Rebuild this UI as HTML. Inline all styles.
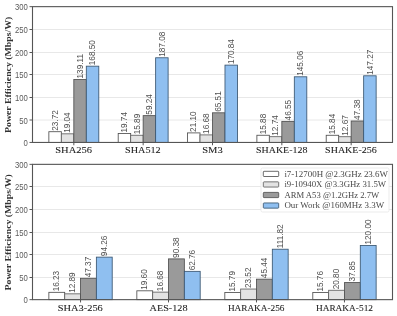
<!DOCTYPE html>
<html><head><meta charset="utf-8"><style>
html,body{margin:0;padding:0;background:#fff;}
svg{display:block;will-change:transform;}
.val{font-family:"Liberation Sans",sans-serif;font-size:8.2px;fill:#505050;}
.tick{font-family:"Liberation Sans",sans-serif;font-size:8.3px;fill:#5a5a5a;}
.cat{font-family:"Liberation Serif",serif;font-weight:normal;font-size:8.6px;fill:#222;stroke:#222;stroke-width:0.08px;}
.ylab{font-family:"Liberation Serif",serif;font-weight:bold;font-size:8.6px;fill:#333;}
.leg{font-family:"Liberation Serif",serif;font-size:7.5px;fill:#484848;}
</style></head><body>
<svg width="397" height="316" viewBox="0 0 397 316">
<rect width="397" height="316" fill="#fff"/>
<line x1="32.5" x2="392.5" y1="120.00" y2="120.00" stroke="#e8e8e8" stroke-width="1"/>
<line x1="32.5" x2="392.5" y1="97.50" y2="97.50" stroke="#e8e8e8" stroke-width="1"/>
<line x1="32.5" x2="392.5" y1="74.50" y2="74.50" stroke="#e8e8e8" stroke-width="1"/>
<line x1="32.5" x2="392.5" y1="52.50" y2="52.50" stroke="#e8e8e8" stroke-width="1"/>
<line x1="32.5" x2="392.5" y1="29.50" y2="29.50" stroke="#e8e8e8" stroke-width="1"/>
<rect x="48.86" y="131.71" width="12.48" height="10.74" fill="#ffffff" stroke="#505050" stroke-width="0.85"/>
<text class="val" transform="translate(57.80,130.71) rotate(-90) scale(1.0,1)">23.72</text>
<rect x="61.34" y="133.83" width="12.48" height="8.62" fill="#e3e3e3" stroke="#606060" stroke-width="0.85"/>
<text class="val" transform="translate(70.28,132.83) rotate(-90) scale(1.0,1)">19.04</text>
<rect x="73.83" y="79.48" width="12.48" height="62.97" fill="#9a9a9a" stroke="#505050" stroke-width="0.85"/>
<text class="val" transform="translate(82.77,78.48) rotate(-90) scale(1.0,1)">139.11</text>
<rect x="86.31" y="66.18" width="12.48" height="76.27" fill="#8fbff0" stroke="#3a5670" stroke-width="0.85"/>
<text class="val" transform="translate(95.25,65.18) rotate(-90) scale(1.0,1)">168.50</text>
<line x1="73.83" x2="73.83" y1="142.45" y2="145.25" stroke="#444" stroke-width="0.9"/>
<text class="cat" x="73.65" y="153.35" text-anchor="middle" textLength="36.70" lengthAdjust="spacingAndGlyphs">SHA256</text>
<rect x="118.20" y="133.51" width="12.48" height="8.94" fill="#ffffff" stroke="#505050" stroke-width="0.85"/>
<text class="val" transform="translate(127.14,132.51) rotate(-90) scale(1.0,1)">19.74</text>
<rect x="130.68" y="135.26" width="12.48" height="7.19" fill="#e3e3e3" stroke="#606060" stroke-width="0.85"/>
<text class="val" transform="translate(139.62,134.26) rotate(-90) scale(1.0,1)">15.89</text>
<rect x="143.16" y="115.63" width="12.48" height="26.82" fill="#9a9a9a" stroke="#505050" stroke-width="0.85"/>
<text class="val" transform="translate(152.10,114.63) rotate(-90) scale(1.0,1)">59.24</text>
<rect x="155.64" y="57.77" width="12.48" height="84.68" fill="#8fbff0" stroke="#3a5670" stroke-width="0.85"/>
<text class="val" transform="translate(164.58,56.77) rotate(-90) scale(1.0,1)">187.08</text>
<line x1="143.16" x2="143.16" y1="142.45" y2="145.25" stroke="#444" stroke-width="0.9"/>
<text class="cat" x="142.85" y="153.35" text-anchor="middle" textLength="35.70" lengthAdjust="spacingAndGlyphs">SHA512</text>
<rect x="187.54" y="132.90" width="12.48" height="9.55" fill="#ffffff" stroke="#505050" stroke-width="0.85"/>
<text class="val" transform="translate(196.48,131.90) rotate(-90) scale(1.0,1)">21.10</text>
<rect x="200.02" y="134.90" width="12.48" height="7.55" fill="#e3e3e3" stroke="#606060" stroke-width="0.85"/>
<text class="val" transform="translate(208.96,133.90) rotate(-90) scale(1.0,1)">16.68</text>
<rect x="212.50" y="112.80" width="12.48" height="29.65" fill="#9a9a9a" stroke="#505050" stroke-width="0.85"/>
<text class="val" transform="translate(221.44,111.80) rotate(-90) scale(1.0,1)">65.51</text>
<rect x="224.98" y="65.12" width="12.48" height="77.33" fill="#8fbff0" stroke="#3a5670" stroke-width="0.85"/>
<text class="val" transform="translate(233.92,64.12) rotate(-90) scale(1.0,1)">170.84</text>
<line x1="212.50" x2="212.50" y1="142.45" y2="145.25" stroke="#444" stroke-width="0.9"/>
<text class="cat" x="212.45" y="153.35" text-anchor="middle" textLength="20.50" lengthAdjust="spacingAndGlyphs">SM3</text>
<rect x="256.88" y="135.26" width="12.48" height="7.19" fill="#ffffff" stroke="#505050" stroke-width="0.85"/>
<text class="val" transform="translate(265.82,134.26) rotate(-90) scale(1.0,1)">15.88</text>
<rect x="269.36" y="136.68" width="12.48" height="5.77" fill="#e3e3e3" stroke="#606060" stroke-width="0.85"/>
<text class="val" transform="translate(278.30,135.68) rotate(-90) scale(1.0,1)">12.74</text>
<rect x="281.84" y="121.38" width="12.48" height="21.07" fill="#9a9a9a" stroke="#505050" stroke-width="0.85"/>
<text class="val" transform="translate(290.78,120.38) rotate(-90) scale(1.0,1)">46.55</text>
<rect x="294.32" y="76.79" width="12.48" height="65.66" fill="#8fbff0" stroke="#3a5670" stroke-width="0.85"/>
<text class="val" transform="translate(303.26,75.79) rotate(-90) scale(1.0,1)">145.06</text>
<line x1="281.84" x2="281.84" y1="142.45" y2="145.25" stroke="#444" stroke-width="0.9"/>
<text class="cat" x="281.75" y="153.35" text-anchor="middle" textLength="51.30" lengthAdjust="spacingAndGlyphs">SHAKE-128</text>
<rect x="326.21" y="135.28" width="12.48" height="7.17" fill="#ffffff" stroke="#505050" stroke-width="0.85"/>
<text class="val" transform="translate(335.15,134.28) rotate(-90) scale(1.0,1)">15.84</text>
<rect x="338.69" y="136.71" width="12.48" height="5.74" fill="#e3e3e3" stroke="#606060" stroke-width="0.85"/>
<text class="val" transform="translate(347.63,135.71) rotate(-90) scale(1.0,1)">12.67</text>
<rect x="351.17" y="121.00" width="12.48" height="21.45" fill="#9a9a9a" stroke="#505050" stroke-width="0.85"/>
<text class="val" transform="translate(360.12,120.00) rotate(-90) scale(1.0,1)">47.38</text>
<rect x="363.66" y="75.79" width="12.48" height="66.66" fill="#8fbff0" stroke="#3a5670" stroke-width="0.85"/>
<text class="val" transform="translate(372.60,74.79) rotate(-90) scale(1.0,1)">147.27</text>
<line x1="351.17" x2="351.17" y1="142.45" y2="145.25" stroke="#444" stroke-width="0.9"/>
<text class="cat" x="350.95" y="153.35" text-anchor="middle" textLength="51.70" lengthAdjust="spacingAndGlyphs">SHAKE-256</text>
<line x1="29.5" x2="32.5" y1="142.45" y2="142.45" stroke="#444" stroke-width="0.9"/>
<text class="tick" transform="translate(27.9,145.95) scale(0.93,1)" text-anchor="end">0</text>
<line x1="29.5" x2="32.5" y1="120.00" y2="120.00" stroke="#444" stroke-width="0.9"/>
<text class="tick" transform="translate(27.9,123.50) scale(0.93,1)" text-anchor="end">50</text>
<line x1="29.5" x2="32.5" y1="97.50" y2="97.50" stroke="#444" stroke-width="0.9"/>
<text class="tick" transform="translate(27.9,101.00) scale(0.93,1)" text-anchor="end">100</text>
<line x1="29.5" x2="32.5" y1="74.50" y2="74.50" stroke="#444" stroke-width="0.9"/>
<text class="tick" transform="translate(27.9,78.00) scale(0.93,1)" text-anchor="end">150</text>
<line x1="29.5" x2="32.5" y1="52.50" y2="52.50" stroke="#444" stroke-width="0.9"/>
<text class="tick" transform="translate(27.9,56.00) scale(0.93,1)" text-anchor="end">200</text>
<line x1="29.5" x2="32.5" y1="29.50" y2="29.50" stroke="#444" stroke-width="0.9"/>
<text class="tick" transform="translate(27.9,33.00) scale(0.93,1)" text-anchor="end">250</text>
<line x1="29.5" x2="32.5" y1="6.65" y2="6.65" stroke="#444" stroke-width="0.9"/>
<text class="tick" transform="translate(27.9,10.15) scale(0.93,1)" text-anchor="end">300</text>
<rect x="32.5" y="6.65" width="360.00" height="135.80" fill="none" stroke="#555" stroke-width="1.1"/>
<text class="ylab" transform="translate(10.5,74.85) rotate(-90) scale(1.14,1)" text-anchor="middle">Power Efficiency (Mbps/W)</text>
<line x1="32.5" x2="392.5" y1="277.50" y2="277.50" stroke="#e8e8e8" stroke-width="1"/>
<line x1="32.5" x2="392.5" y1="254.50" y2="254.50" stroke="#e8e8e8" stroke-width="1"/>
<line x1="32.5" x2="392.5" y1="232.50" y2="232.50" stroke="#e8e8e8" stroke-width="1"/>
<line x1="32.5" x2="392.5" y1="209.50" y2="209.50" stroke="#e8e8e8" stroke-width="1"/>
<line x1="32.5" x2="392.5" y1="186.50" y2="186.50" stroke="#e8e8e8" stroke-width="1"/>
<rect x="48.86" y="292.33" width="15.84" height="7.32" fill="#ffffff" stroke="#505050" stroke-width="0.85"/>
<text class="val" transform="translate(59.48,291.33) rotate(-90) scale(1.0,1)">16.23</text>
<rect x="64.70" y="293.84" width="15.84" height="5.81" fill="#e3e3e3" stroke="#606060" stroke-width="0.85"/>
<text class="val" transform="translate(75.32,292.84) rotate(-90) scale(1.0,1)">12.89</text>
<rect x="80.54" y="278.29" width="15.84" height="21.36" fill="#9a9a9a" stroke="#505050" stroke-width="0.85"/>
<text class="val" transform="translate(91.15,277.29) rotate(-90) scale(1.0,1)">47.37</text>
<rect x="96.37" y="257.14" width="15.84" height="42.51" fill="#8fbff0" stroke="#3a5670" stroke-width="0.85"/>
<text class="val" transform="translate(106.99,256.14) rotate(-90) scale(1.0,1)">94.26</text>
<line x1="80.54" x2="80.54" y1="299.65" y2="302.45" stroke="#444" stroke-width="0.9"/>
<text class="cat" x="80.30" y="310.54999999999995" text-anchor="middle" textLength="45.00" lengthAdjust="spacingAndGlyphs">SHA3-256</text>
<rect x="136.84" y="290.81" width="15.84" height="8.84" fill="#ffffff" stroke="#505050" stroke-width="0.85"/>
<text class="val" transform="translate(147.46,289.81) rotate(-90) scale(1.0,1)">19.60</text>
<rect x="152.68" y="292.13" width="15.84" height="7.52" fill="#e3e3e3" stroke="#606060" stroke-width="0.85"/>
<text class="val" transform="translate(163.29,291.13) rotate(-90) scale(1.0,1)">16.68</text>
<rect x="168.51" y="258.89" width="15.84" height="40.76" fill="#9a9a9a" stroke="#505050" stroke-width="0.85"/>
<text class="val" transform="translate(179.13,257.89) rotate(-90) scale(1.0,1)">90.38</text>
<rect x="184.35" y="271.35" width="15.84" height="28.30" fill="#8fbff0" stroke="#3a5670" stroke-width="0.85"/>
<text class="val" transform="translate(194.97,270.35) rotate(-90) scale(1.0,1)">62.76</text>
<line x1="168.51" x2="168.51" y1="299.65" y2="302.45" stroke="#444" stroke-width="0.9"/>
<text class="cat" x="168.55" y="310.54999999999995" text-anchor="middle" textLength="37.90" lengthAdjust="spacingAndGlyphs">AES-128</text>
<rect x="224.82" y="292.53" width="15.84" height="7.12" fill="#ffffff" stroke="#505050" stroke-width="0.85"/>
<text class="val" transform="translate(235.43,291.53) rotate(-90) scale(1.0,1)">15.79</text>
<rect x="240.65" y="289.04" width="15.84" height="10.61" fill="#e3e3e3" stroke="#606060" stroke-width="0.85"/>
<text class="val" transform="translate(251.27,288.04) rotate(-90) scale(1.0,1)">23.52</text>
<rect x="256.49" y="279.16" width="15.84" height="20.49" fill="#9a9a9a" stroke="#505050" stroke-width="0.85"/>
<text class="val" transform="translate(267.11,278.16) rotate(-90) scale(1.0,1)">45.44</text>
<rect x="272.32" y="249.22" width="15.84" height="50.43" fill="#8fbff0" stroke="#3a5670" stroke-width="0.85"/>
<text class="val" transform="translate(282.94,248.22) rotate(-90) scale(1.0,1)">111.82</text>
<line x1="256.49" x2="256.49" y1="299.65" y2="302.45" stroke="#444" stroke-width="0.9"/>
<text class="cat" x="256.15" y="310.54999999999995" text-anchor="middle" textLength="56.50" lengthAdjust="spacingAndGlyphs">HARAKA-256</text>
<rect x="312.79" y="292.54" width="15.84" height="7.11" fill="#ffffff" stroke="#505050" stroke-width="0.85"/>
<text class="val" transform="translate(323.41,291.54) rotate(-90) scale(1.0,1)">15.76</text>
<rect x="328.63" y="290.27" width="15.84" height="9.38" fill="#e3e3e3" stroke="#606060" stroke-width="0.85"/>
<text class="val" transform="translate(339.25,289.27) rotate(-90) scale(1.0,1)">20.80</text>
<rect x="344.46" y="282.58" width="15.84" height="17.07" fill="#9a9a9a" stroke="#505050" stroke-width="0.85"/>
<text class="val" transform="translate(355.08,281.58) rotate(-90) scale(1.0,1)">37.85</text>
<rect x="360.30" y="245.53" width="15.84" height="54.12" fill="#8fbff0" stroke="#3a5670" stroke-width="0.85"/>
<text class="val" transform="translate(370.92,244.53) rotate(-90) scale(1.0,1)">120.00</text>
<line x1="344.46" x2="344.46" y1="299.65" y2="302.45" stroke="#444" stroke-width="0.9"/>
<text class="cat" x="344.45" y="310.54999999999995" text-anchor="middle" textLength="57.10" lengthAdjust="spacingAndGlyphs">HARAKA-512</text>
<line x1="29.5" x2="32.5" y1="299.65" y2="299.65" stroke="#444" stroke-width="0.9"/>
<text class="tick" transform="translate(27.9,303.15) scale(0.93,1)" text-anchor="end">0</text>
<line x1="29.5" x2="32.5" y1="277.50" y2="277.50" stroke="#444" stroke-width="0.9"/>
<text class="tick" transform="translate(27.9,281.00) scale(0.93,1)" text-anchor="end">50</text>
<line x1="29.5" x2="32.5" y1="254.50" y2="254.50" stroke="#444" stroke-width="0.9"/>
<text class="tick" transform="translate(27.9,258.00) scale(0.93,1)" text-anchor="end">100</text>
<line x1="29.5" x2="32.5" y1="232.50" y2="232.50" stroke="#444" stroke-width="0.9"/>
<text class="tick" transform="translate(27.9,236.00) scale(0.93,1)" text-anchor="end">150</text>
<line x1="29.5" x2="32.5" y1="209.50" y2="209.50" stroke="#444" stroke-width="0.9"/>
<text class="tick" transform="translate(27.9,213.00) scale(0.93,1)" text-anchor="end">200</text>
<line x1="29.5" x2="32.5" y1="186.50" y2="186.50" stroke="#444" stroke-width="0.9"/>
<text class="tick" transform="translate(27.9,190.00) scale(0.93,1)" text-anchor="end">250</text>
<line x1="29.5" x2="32.5" y1="164.35" y2="164.35" stroke="#444" stroke-width="0.9"/>
<text class="tick" transform="translate(27.9,167.85) scale(0.93,1)" text-anchor="end">300</text>
<rect x="32.5" y="164.35" width="360.00" height="135.30" fill="none" stroke="#555" stroke-width="1.1"/>
<text class="ylab" transform="translate(10.5,232.30) rotate(-90) scale(1.14,1)" text-anchor="middle">Power Efficiency (Mbps/W)</text>
<rect x="261" y="168" width="128" height="44" rx="1.5" fill="#fff" fill-opacity="0.9" stroke="#e6e6e6" stroke-width="0.8"/>
<rect x="263.3" y="171.30" width="15.4" height="5.2" rx="0.7" fill="#ffffff" stroke="#505050" stroke-width="0.85"/>
<text class="leg" x="284.4" y="176.80" textLength="103.6" lengthAdjust="spacingAndGlyphs">i7-12700H @2.3GHz 23.6W</text>
<rect x="263.3" y="181.85" width="15.4" height="5.2" rx="0.7" fill="#e3e3e3" stroke="#606060" stroke-width="0.85"/>
<text class="leg" x="284.4" y="187.35" textLength="101.7" lengthAdjust="spacingAndGlyphs">i9-10940X @3.3GHz 31.5W</text>
<rect x="263.3" y="192.40" width="15.4" height="5.2" rx="0.7" fill="#9a9a9a" stroke="#505050" stroke-width="0.85"/>
<text class="leg" x="284.4" y="197.90" textLength="94.9" lengthAdjust="spacingAndGlyphs">ARM A53 @1.2GHz 2.7W</text>
<rect x="263.3" y="202.95" width="15.4" height="5.2" rx="0.7" fill="#8fbff0" stroke="#3a5670" stroke-width="0.85"/>
<text class="leg" x="284.4" y="208.45" textLength="99.7" lengthAdjust="spacingAndGlyphs">Our Work @160MHz 3.3W</text>
</svg></body></html>
